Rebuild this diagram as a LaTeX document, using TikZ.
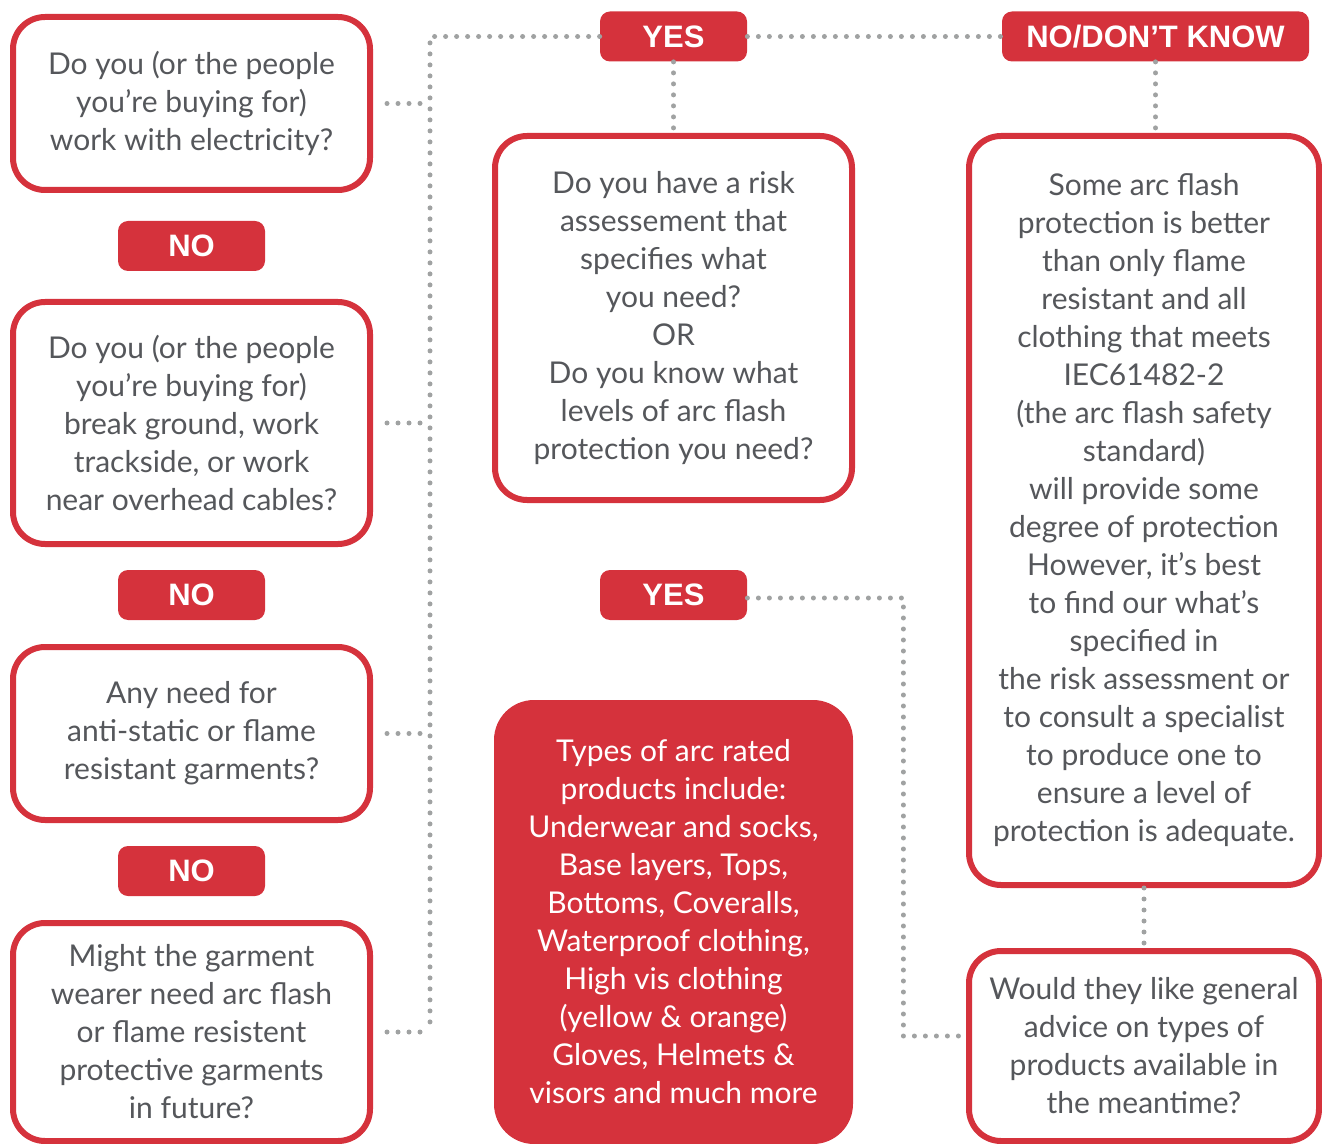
\documentclass[tikz,border=0pt]{standalone}
\usepackage{fontspec}
\setmainfont{Lato}
\newfontfamily\badgefont{Liberation Sans}
\definecolor{arcred}{RGB}{213,50,60}
\definecolor{txtgray}{RGB}{85,87,91}
\definecolor{dotgray}{RGB}{160,162,162}

\tikzset{
  qbox/.style={draw=arcred, line width=3pt, rounded corners=16pt, fill=white,
    align=center, text=txtgray, font=\fontsize{15}{19}\selectfont, inner sep=0pt},
  infobox/.style={fill=arcred, rounded corners=20pt, align=center, text=white,
    font=\fontsize{15}{19}\selectfont, inner sep=0pt},
  badge/.style={fill=arcred, rounded corners=5pt, text=white, inner sep=0pt,
    font=\badgefont\bfseries\fontsize{15.5}{18}\selectfont, minimum height=25pt},
  dotline/.style={draw=dotgray, line width=2.5pt, line cap=round,
    dash pattern=on 0pt off 5.5pt}
}

\begin{document}
\begin{tikzpicture}[x=0.5pt, y=-0.5pt]
\useasboundingbox (0,0) rectangle (1322,1144);
\clip (0,0) rectangle (1322,1144);

% questions down the left side
\node[qbox, minimum width=178.5pt, minimum height=86.5pt] (qa) at (191.5,103.5)
  {Do you (or the people\\you’re buying for)\\work with electricity?};
\node[qbox, minimum width=178.5pt, minimum height=121pt] (qb) at (191.5,423)
  {Do you (or the people\\you’re buying for)\\break ground, work\\trackside, or work\\near overhead cables?};
\node[qbox, minimum width=178.5pt, minimum height=86.5pt] (qc) at (191.5,733.5)
  {Any need for\\anti-static or flame\\resistant garments?};
\node[qbox, minimum width=178.5pt, minimum height=109pt] (qd) at (191.5,1032)
  {Might the garment\\wearer need arc flash\\or flame resistent\\protective garments\\in future?};

% NO badges between them
\foreach \i/\y in {1/246, 2/595, 3/871} {
  \node[badge, minimum width=73.5pt] (no\i) at (191.5,\y) {NO};
}

% middle column
\node[badge, minimum width=73.5pt] (yes1) at (673.5,36.5) {YES};
\node[qbox, minimum width=178.5pt, minimum height=182pt] (qe) at (673.5,318)
  {Do you have a risk\\assessement that\\specifies what\\you need?\\OR\\Do you know what\\levels of arc flash\\protection you need?};
\node[badge, minimum width=73.5pt] (yes2) at (673.5,595) {YES};
\node[infobox, minimum width=179.5pt, minimum height=222pt] (qf) at (673.5,922)
  {Types of arc rated\\products include:\\Underwear and socks,\\Base layers, Tops,\\Bottoms, Coveralls,\\Waterproof clothing,\\High vis clothing\\(yellow \& orange)\\Gloves, Helmets \&\\visors and much more};

% right column
\node[badge, minimum width=153.5pt] (nodk) at (1155.5,36.5) {NO/DON’T KNOW};
\node[qbox, minimum width=175pt, minimum height=374.5pt] (qg) at (1144,510.5)
  {Some arc flash\\protection is better\\than only flame\\resistant and all\\clothing that meets\\IEC61482-2\\(the arc flash safety\\standard)\\will provide some\\degree of protection\\However, it’s best\\to find our what’s\\specified in\\the risk assessment or\\to consult a specialist\\to produce one to\\ensure a level of\\protection is adequate.};
\node[qbox, minimum width=175pt, minimum height=95pt] (qh) at (1144,1046)
  {Would they like general\\advice on types of\\products available in\\the meantime?};

% dotted connectors
\coordinate (trunk) at (430,36.5);
\draw[dotline] (yes1.west) -- (trunk) -- (trunk |- qd.east);
\foreach \q in {qa, qb, qc, qd} {
  \draw[dotline, shorten <=7pt] (\q.east) -- (\q.east -| trunk);
}
\draw[dotline] (yes1.east) -- (nodk.west);
\draw[dotline] (yes1.south) -- (qe.north);
\draw[dotline] (nodk.south) -- (nodk.south |- qg.north);
\draw[dotline] (qg.south) -- (qh.north);
\draw[dotline] ([yshift=-1.5pt]yes2.east) -- ++(156,0) |- ([yshift=5pt]qh.west);

\end{tikzpicture}
\end{document}
